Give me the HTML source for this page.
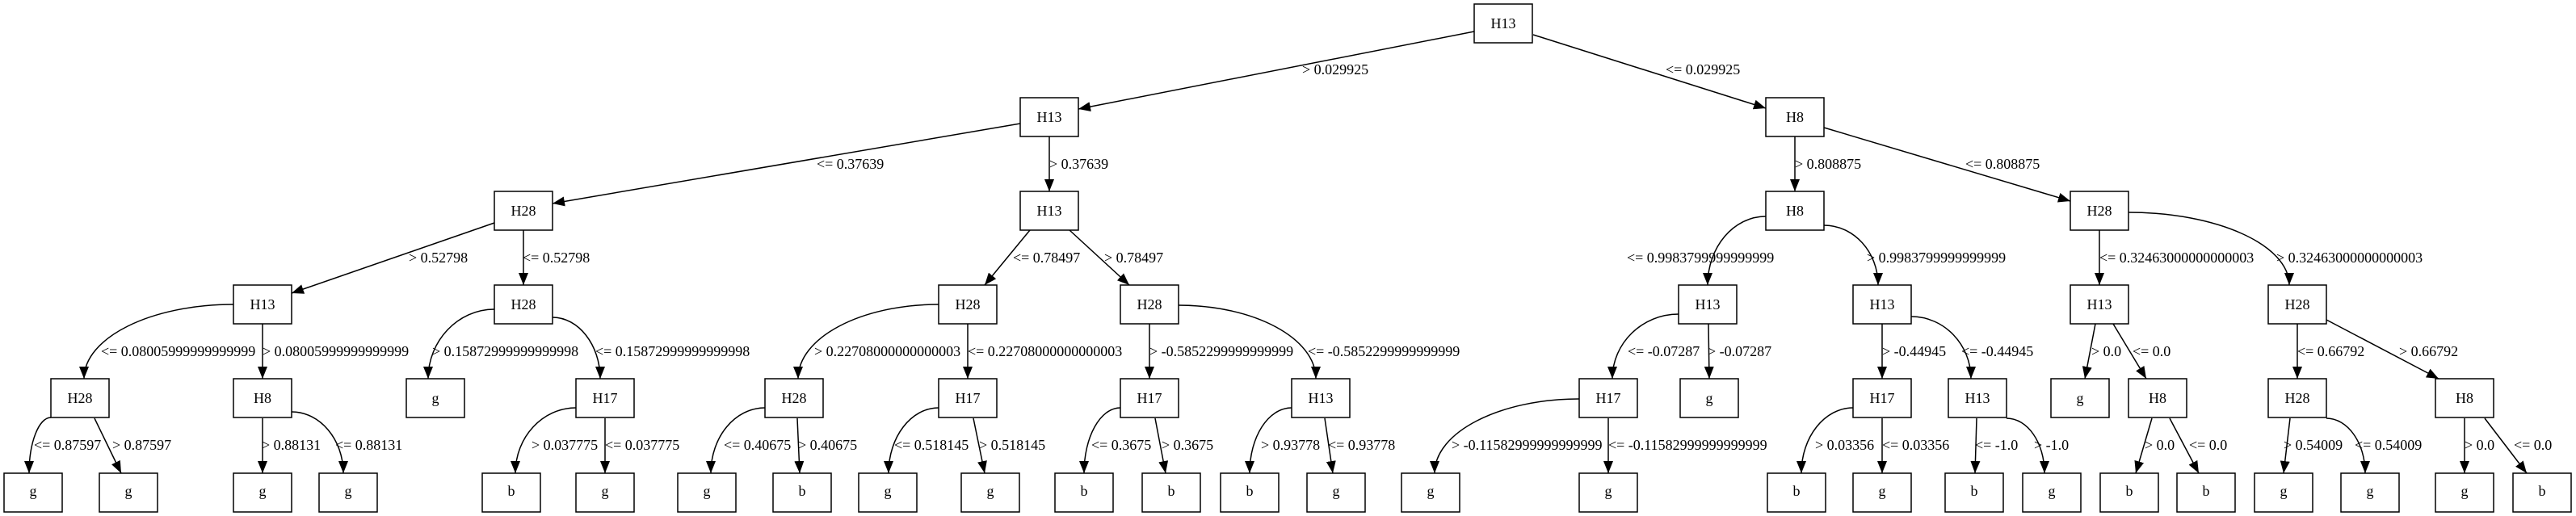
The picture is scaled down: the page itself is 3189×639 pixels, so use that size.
<!DOCTYPE html>
<html><head><meta charset="utf-8"><style>
html,body{margin:0;padding:0;background:#fff;}
svg{display:block;}
text{font-family:"Liberation Serif",serif;font-size:18px;fill:#000;}
</style></head><body>
<svg width="3189" height="639" viewBox="0 0 3189 639" xmlns="http://www.w3.org/2000/svg">
<defs>
<marker id="a" markerWidth="16" markerHeight="12" refX="15" refY="6" orient="auto" markerUnits="userSpaceOnUse">
<path d="M0,0 L15,6 L0,12 Z" fill="#000"/>
</marker>
</defs>
<g fill="#fff" stroke="#000" stroke-width="1.5">
<!-- row0 -->
<rect x="1825" y="5" width="72" height="48"/>
<!-- row1 -->
<rect x="1263" y="121" width="72" height="48"/>
<rect x="2186" y="121" width="72" height="48"/>
<!-- row2 -->
<rect x="612" y="237" width="72" height="48"/>
<rect x="1263" y="237" width="72" height="48"/>
<rect x="2186" y="237" width="72" height="48"/>
<rect x="2563" y="237" width="72" height="48"/>
<!-- row3 -->
<rect x="289" y="353" width="72" height="48"/>
<rect x="612" y="353" width="72" height="48"/>
<rect x="1162" y="353" width="72" height="48"/>
<rect x="1387" y="353" width="72" height="48"/>
<rect x="2078" y="353" width="72" height="48"/>
<rect x="2294" y="353" width="72" height="48"/>
<rect x="2563" y="353" width="72" height="48"/>
<rect x="2808" y="353" width="72" height="48"/>
<!-- row4 -->
<rect x="63" y="469" width="72" height="48"/>
<rect x="289" y="469" width="72" height="48"/>
<rect x="503" y="469" width="72" height="48"/>
<rect x="713" y="469" width="72" height="48"/>
<rect x="947" y="469" width="72" height="48"/>
<rect x="1162" y="469" width="72" height="48"/>
<rect x="1387" y="469" width="72" height="48"/>
<rect x="1599" y="469" width="72" height="48"/>
<rect x="1955" y="469" width="72" height="48"/>
<rect x="2080" y="469" width="72" height="48"/>
<rect x="2294" y="469" width="72" height="48"/>
<rect x="2412" y="469" width="72" height="48"/>
<rect x="2539" y="469" width="72" height="48"/>
<rect x="2635" y="469" width="72" height="48"/>
<rect x="2808" y="469" width="72" height="48"/>
<rect x="3015" y="469" width="72" height="48"/>
<!-- row5 -->
<rect x="5" y="586" width="72" height="48"/>
<rect x="123" y="586" width="72" height="48"/>
<rect x="289" y="586" width="72" height="48"/>
<rect x="395" y="586" width="72" height="48"/>
<rect x="597" y="586" width="72" height="48"/>
<rect x="713" y="586" width="72" height="48"/>
<rect x="839" y="586" width="72" height="48"/>
<rect x="957" y="586" width="72" height="48"/>
<rect x="1063" y="586" width="72" height="48"/>
<rect x="1190" y="586" width="72" height="48"/>
<rect x="1306" y="586" width="72" height="48"/>
<rect x="1414" y="586" width="72" height="48"/>
<rect x="1511" y="586" width="72" height="48"/>
<rect x="1618" y="586" width="72" height="48"/>
<rect x="1735" y="586" width="72" height="48"/>
<rect x="1955" y="586" width="72" height="48"/>
<rect x="2188" y="586" width="72" height="48"/>
<rect x="2294" y="586" width="72" height="48"/>
<rect x="2408" y="586" width="72" height="48"/>
<rect x="2504" y="586" width="72" height="48"/>
<rect x="2600" y="586" width="72" height="48"/>
<rect x="2695" y="586" width="72" height="48"/>
<rect x="2791" y="586" width="72" height="48"/>
<rect x="2898" y="586" width="72" height="48"/>
<rect x="3015" y="586" width="72" height="48"/>
<rect x="3111" y="586" width="72" height="48"/>
</g>
<g fill="none" stroke="#000" stroke-width="1.5" marker-end="url(#a)">
<path d="M1825,39 L1335,135"/>
<path d="M1898,43 L2186,134"/>
<path d="M1263,153 L684,252"/>
<path d="M1299,169 L1299,237"/>
<path d="M2222,169 L2222,237"/>
<path d="M2258,158 L2563,249"/>
<path d="M612,276 L361,363"/>
<path d="M648,285 L648,353"/>
<path d="M1275,285 L1219,353"/>
<path d="M1324,285 L1398,353"/>
<path d="M2186,268 C2146,268 2114,306 2114,353"/>
<path d="M2258,279 C2295,279 2325,312 2325,353"/>
<path d="M2599,285 L2599,353"/>
<path d="M2635,263 C2744,263 2834,303 2834,353"/>
<path d="M289,377 C187,377 104,418 104,469"/>
<path d="M325,401 L325,469"/>
<path d="M612,383 C567,383 530,422 530,469"/>
<path d="M684,393 C716,393 743,427 743,469"/>
<path d="M1162,377 C1066,377 988,418 988,469"/>
<path d="M1198,401 L1198,469"/>
<path d="M1423,401 L1423,469"/>
<path d="M1459,378 C1553,378 1629,419 1629,469"/>
<path d="M2078,389 C2033,389 1996,425 1996,469"/>
<path d="M2115,401 L2116,469"/>
<path d="M2330,401 L2330,469"/>
<path d="M2366,392 C2407,392 2440,427 2440,469"/>
<path d="M2594,401 L2581,469"/>
<path d="M2616,401 L2657,469"/>
<path d="M2844,401 L2844,469"/>
<path d="M2880,396 L3019,469"/>
<path d="M63,517 C48,517 36,548 36,586"/>
<path d="M117,518 L150,586"/>
<path d="M325,518 L325,586"/>
<path d="M361,510 C396,510 425,544 425,586"/>
<path d="M713,505 C672,505 638,541 638,586"/>
<path d="M749,518 L749,586"/>
<path d="M947,505 C910,505 880,541 880,586"/>
<path d="M987,518 L990,586"/>
<path d="M1162,505 C1128,505 1100,541 1100,586"/>
<path d="M1205,518 L1219,586"/>
<path d="M1387,505 C1362,505 1342,541 1342,586"/>
<path d="M1430,518 L1443,586"/>
<path d="M1599,505 C1570,505 1547,541 1547,586"/>
<path d="M1640,518 L1650,586"/>
<path d="M1955,494 C1857,494 1776,535 1776,586"/>
<path d="M1991,518 L1991,586"/>
<path d="M2294,505 C2259,505 2230,541 2230,586"/>
<path d="M2330,518 L2330,586"/>
<path d="M2447,518 L2445,586"/>
<path d="M2484,518 C2510,518 2531,548 2531,586"/>
<path d="M2664,518 L2644,586"/>
<path d="M2686,518 L2722,586"/>
<path d="M2835,518 L2827,586"/>
<path d="M2880,518 C2906,518 2928,548 2928,586"/>
<path d="M3051,518 L3051,586"/>
<path d="M3076,518 L3128,586"/>
</g>
<g text-anchor="middle">
<text x="1861" y="35">H13</text>
<text x="1299" y="151">H13</text>
<text x="2222" y="151">H8</text>
<text x="648" y="267">H28</text>
<text x="1299" y="267">H13</text>
<text x="2222" y="267">H8</text>
<text x="2599" y="267">H28</text>
<text x="325" y="383">H13</text>
<text x="648" y="383">H28</text>
<text x="1198" y="383">H28</text>
<text x="1423" y="383">H28</text>
<text x="2114" y="383">H13</text>
<text x="2330" y="383">H13</text>
<text x="2599" y="383">H13</text>
<text x="2844" y="383">H28</text>
<text x="99" y="499">H28</text>
<text x="325" y="499">H8</text>
<text x="539" y="499">g</text>
<text x="749" y="499">H17</text>
<text x="983" y="499">H28</text>
<text x="1198" y="499">H17</text>
<text x="1423" y="499">H17</text>
<text x="1635" y="499">H13</text>
<text x="1991" y="499">H17</text>
<text x="2116" y="499">g</text>
<text x="2330" y="499">H17</text>
<text x="2448" y="499">H13</text>
<text x="2575" y="499">g</text>
<text x="2671" y="499">H8</text>
<text x="2844" y="499">H28</text>
<text x="3051" y="499">H8</text>
<text x="41" y="614">g</text>
<text x="159" y="614">g</text>
<text x="325" y="614">g</text>
<text x="431" y="614">g</text>
<text x="633" y="614">b</text>
<text x="749" y="614">g</text>
<text x="875" y="614">g</text>
<text x="993" y="614">b</text>
<text x="1099" y="614">g</text>
<text x="1226" y="614">g</text>
<text x="1342" y="614">b</text>
<text x="1450" y="614">b</text>
<text x="1547" y="614">b</text>
<text x="1654" y="614">g</text>
<text x="1771" y="614">g</text>
<text x="1991" y="614">g</text>
<text x="2224" y="614">b</text>
<text x="2330" y="614">g</text>
<text x="2444" y="614">b</text>
<text x="2540" y="614">g</text>
<text x="2636" y="614">b</text>
<text x="2731" y="614">b</text>
<text x="2827" y="614">g</text>
<text x="2934" y="614">g</text>
<text x="3051" y="614">g</text>
<text x="3147" y="614">b</text>
</g>
<g>
<text x="1612" y="92">&gt; 0.029925</text>
<text x="2062" y="92">&lt;= 0.029925</text>
<text x="1011" y="209">&lt;= 0.37639</text>
<text x="1299" y="209">&gt; 0.37639</text>
<text x="2222" y="209">&gt; 0.808875</text>
<text x="2433" y="209">&lt;= 0.808875</text>
<text x="506" y="325">&gt; 0.52798</text>
<text x="647" y="325">&lt;= 0.52798</text>
<text x="1254" y="325">&lt;= 0.78497</text>
<text x="1367" y="325">&gt; 0.78497</text>
<text x="2014" y="325">&lt;= 0.9983799999999999</text>
<text x="2311" y="325">&gt; 0.9983799999999999</text>
<text x="2599" y="325">&lt;= 0.32463000000000003</text>
<text x="2818" y="325">&gt; 0.32463000000000003</text>
<text x="125" y="441">&lt;= 0.08005999999999999</text>
<text x="325" y="441">&gt; 0.08005999999999999</text>
<text x="535" y="441">&gt; 0.15872999999999998</text>
<text x="737" y="441">&lt;= 0.15872999999999998</text>
<text x="1008" y="441">&gt; 0.22708000000000003</text>
<text x="1198" y="441">&lt;= 0.22708000000000003</text>
<text x="1423" y="441">&gt; -0.5852299999999999</text>
<text x="1619" y="441">&lt;= -0.5852299999999999</text>
<text x="2015" y="441">&lt;= -0.07287</text>
<text x="2114" y="441">&gt; -0.07287</text>
<text x="2330" y="441">&gt; -0.44945</text>
<text x="2428" y="441">&lt;= -0.44945</text>
<text x="2589" y="441">&gt; 0.0</text>
<text x="2640" y="441">&lt;= 0.0</text>
<text x="2844" y="441">&lt;= 0.66792</text>
<text x="2970" y="441">&gt; 0.66792</text>
<text x="42" y="557">&lt;= 0.87597</text>
<text x="139" y="557">&gt; 0.87597</text>
<text x="324" y="557">&gt; 0.88131</text>
<text x="415" y="557">&lt;= 0.88131</text>
<text x="658" y="557">&gt; 0.037775</text>
<text x="749" y="557">&lt;= 0.037775</text>
<text x="896" y="557">&lt;= 0.40675</text>
<text x="988" y="557">&gt; 0.40675</text>
<text x="1107" y="557">&lt;= 0.518145</text>
<text x="1212" y="557">&gt; 0.518145</text>
<text x="1351" y="557">&lt;= 0.3675</text>
<text x="1438" y="557">&gt; 0.3675</text>
<text x="1561" y="557">&gt; 0.93778</text>
<text x="1644" y="557">&lt;= 0.93778</text>
<text x="1797" y="557">&gt; -0.11582999999999999</text>
<text x="1991" y="557">&lt;= -0.11582999999999999</text>
<text x="2247" y="557">&gt; 0.03356</text>
<text x="2330" y="557">&lt;= 0.03356</text>
<text x="2445" y="557">&lt;= -1.0</text>
<text x="2518" y="557">&gt; -1.0</text>
<text x="2655" y="557">&gt; 0.0</text>
<text x="2710" y="557">&lt;= 0.0</text>
<text x="2827" y="557">&gt; 0.54009</text>
<text x="2915" y="557">&lt;= 0.54009</text>
<text x="3051" y="557">&gt; 0.0</text>
<text x="3112" y="557">&lt;= 0.0</text>
</g>
</svg>
</body></html>
